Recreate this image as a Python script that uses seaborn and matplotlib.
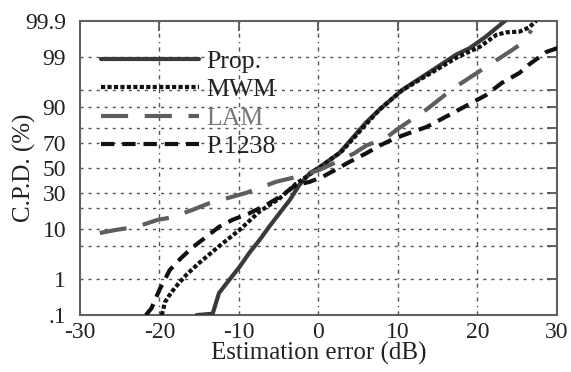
import numpy as np
import pandas as pd
import matplotlib
matplotlib.use("Agg")
import matplotlib.pyplot as plt
import seaborn as sns
from statistics import NormalDist

# ---- data (x: estimation error in dB, p: cumulative probability in %) ----
prop_x = [-15.3, -13.3, -12.5, -11.2, -9.9, -8.7, -7.4, -6.2, -4.9, -3.6, -2.4, -1.0, 0.0,
          2.6, 6.0, 7.7, 10.6, 14.0, 17.4, 19.0, 21.0, 23.5]
prop_p = [0.1, 0.11, 0.43, 0.94, 1.9, 3.7, 6.5, 10.8, 17, 25, 36, 46, 50,
          62, 83, 89, 95, 97.8, 99.15, 99.4, 99.7, 99.9]

mwm_x = [-19.7, -19.3, -18.5, -17.5, -16.5, -15.0, -12.5, -9.9, -7.4, -4.9, -2.8, -1.0, 0.5,
         3.0, 6.0, 7.7, 10.5, 14.0, 17.5, 20.3, 22.4, 23.6, 25.3, 26.5, 27.4]
mwm_p = [0.1, 0.24, 0.45, 0.8, 1.3, 2.3, 5, 9.7, 18, 26, 37, 45, 52,
         64, 82, 89, 94.8, 97.6, 99.0, 99.45, 99.74, 99.78, 99.79, 99.84, 99.9]

lam_x = [-27.5, -25.4, -22.9, -20.2, -18.4, -15.8, -13.7, -9.1, -5.3, -3.3, 0.0, 2.3,
         4.5, 6.0, 8.6, 10.2, 13.6, 17.1, 21.1, 24.4, 25.9, 26.8]
lam_p = [8.6, 9.7, 10.8, 13.8, 15, 19, 23, 30, 38.6, 41.7, 48, 55,
         62, 68, 74, 80, 89, 95.4, 98.3, 99.34, 99.6, 99.81]

p1238_x = [-21.7, -21.0, -20.0, -18.7, -17.3, -15.8, -14.1, -12.5, -10.8, -8.7, -6.5, -4.9,
           -2.8, -1.1, 0.5, 2.3, 3.9, 6.0, 7.7, 9.5, 11.0, 13.6, 16.1, 19.0, 21.1, 23.1,
           25.3, 26.5, 28.7, 30.0, 30.5]
p1238_p = [0.1, 0.16, 0.52, 1.6, 2.9, 4.8, 7.4, 10.8, 13.8, 17, 22, 27,
           36, 38.5, 42.5, 49, 55, 62, 68, 73, 76, 80.5, 86, 91, 93.7, 96.3,
           97.7, 98.5, 99.26, 99.4, 99.45]

series_names = ["Prop.", "MWM", "LAM", "P.1238"]
grid_p = [0.1, 1, 5, 10, 20, 30, 50, 70, 80, 90, 95, 99, 99.9]
grid_labels = [".1", "1", "", "10", "", "30", "50", "70", "", "90", "", "99", "99.9"]
x_ticks = [-30, -20, -10, 0, 10, 20, 30]

# ---- style ----
sns.set_theme(style="white")
plt.rcParams["font.family"] = ["Liberation Serif", "DejaVu Serif"]
plt.rcParams["text.color"] = "#222222"

_nd = NormalDist()
_inv_cdf = np.vectorize(_nd.inv_cdf, otypes=[float])
_cdf = np.vectorize(_nd.cdf, otypes=[float])


def fwd(p):
    p = np.clip(np.asarray(p, dtype=float) / 100.0, 1e-9, 1 - 1e-9)
    return _inv_cdf(p)


def inv(z):
    return _cdf(np.asarray(z, dtype=float)) * 100.0


fig = plt.figure(figsize=(5.71, 3.72), dpi=100)
ax = fig.add_axes([0.140, 0.153, 0.835, 0.791])
ax.set_yscale("function", functions=(fwd, inv))

frames = []
for name, xs, ps in [("Prop.", prop_x, prop_p), ("MWM", mwm_x, mwm_p),
                     ("LAM", lam_x, lam_p), ("P.1238", p1238_x, p1238_p)]:
    frames.append(pd.DataFrame({"x": xs, "p": ps, "method": name}))
df = pd.concat(frames, ignore_index=True)

styles = {
    "Prop.": dict(color="#3a3a3a", linestyle="-", lw=3.0),
    "MWM": dict(color="#111111", linestyle=(0, (1.0, 0.55)), lw=3.0),
    "LAM": dict(color="#5e5e5e", linestyle=(0, (6.5, 4.0)), lw=3.0),
    "P.1238": dict(color="#111111", linestyle=(0, (3.2, 1.9)), lw=3.0),
}

# grid lines first
for gp in grid_p[1:-1]:
    ax.axhline(gp, color="#555555", lw=1.0, linestyle=(0, (2.2, 3.6)), zorder=1)
for gx in x_ticks[1:-1]:
    ax.axvline(gx, color="#555555", lw=1.0, linestyle=(0, (3.0, 3.0, 1.0, 3.0)), zorder=1)

for name in series_names:
    sub = df[df["method"] == name]
    st = styles[name]
    sns.lineplot(data=sub, x="x", y="p", ax=ax, sort=False, estimator=None,
                 color=st["color"], linestyle=st["linestyle"], lw=st["lw"],
                 label=name, zorder=3)

ax.set_xlim(-30, 30)
ax.set_ylim(0.1, 99.9)
ax.set_xticks(x_ticks)
ax.set_xticklabels([str(t) for t in x_ticks])
ax.set_yticks(grid_p)
ax.set_yticklabels(grid_labels)
ax.yaxis.set_minor_locator(matplotlib.ticker.NullLocator())
ax.xaxis.set_minor_locator(matplotlib.ticker.NullLocator())

ax.tick_params(axis="both", which="major", direction="in", length=7, width=1.3,
               color="#555555", labelsize=17, labelcolor="#222222",
               top=True, right=True)
ax.tick_params(axis="x", pad=5)
ax.tick_params(axis="y", pad=10)
for s in ax.spines.values():
    s.set_color("#606060")
    s.set_linewidth(1.5)
    s.set_visible(True)

ax.set_xlabel("Estimation error (dB)", fontsize=18, color="#222222")
ax.xaxis.set_label_coords(0.5, -0.092)
ax.set_ylabel("C.P.D. (%)", fontsize=18, color="#222222")
ax.yaxis.set_label_coords(-0.092, 0.5)

leg = ax.legend(loc="upper left", bbox_to_anchor=(0.045, 0.901), frameon=False,
                fontsize=18.5, handlelength=3.8, handletextpad=0.3, borderpad=0,
                borderaxespad=0, labelspacing=0.21)
for txt, name in zip(leg.get_texts(), series_names):
    txt.set_color("#777777" if name == "LAM" else "#222222")

fig.savefig("out.png", dpi=100, facecolor="white")
